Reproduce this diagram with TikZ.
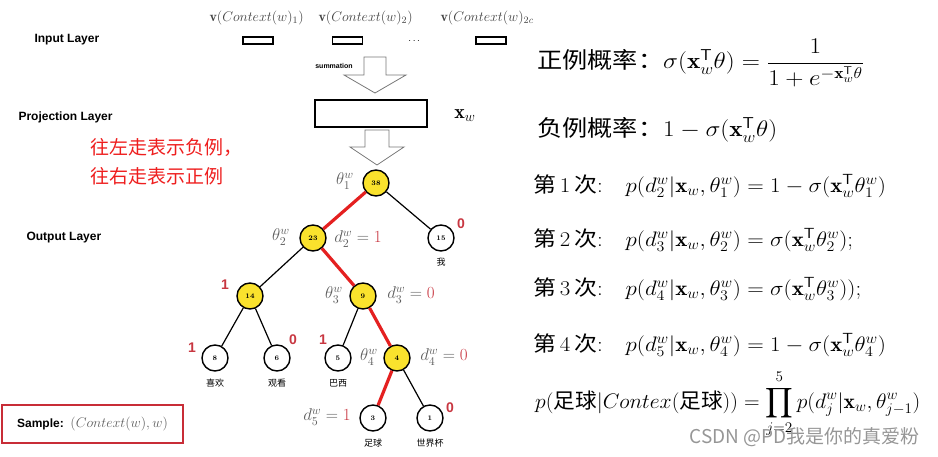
\RequirePackage{fix-cm}
\documentclass[tikz,border=0pt]{standalone}
\usepackage{amsmath,amssymb}
\usepackage{graphicx}
\usepackage{fontspec}
\newfontfamily\cjk{Noto Sans CJK SC}
\newfontfamily\lab{Liberation Sans}
\definecolor{nodeyellow}{RGB}{250,226,45}
\definecolor{pathred}{RGB}{228,32,32}
\definecolor{bitred}{RGB}{200,55,65}
\definecolor{mathgray}{RGB}{95,95,95}
\definecolor{notered}{RGB}{238,30,30}
\definecolor{samplered}{RGB}{200,45,55}
\definecolor{arrowgray}{RGB}{120,120,120}
\definecolor{wmgray}{RGB}{150,150,150}
\tikzset{
  innode/.style={circle, draw, line width=1.4pt, fill=nodeyellow, minimum size=26pt, inner sep=0pt, font=\fontsize{7}{8}\selectfont\bfseries},
  leafnode/.style={innode, fill=white},
  redpath/.style={draw=pathred, line width=3.2pt},
  blackedge/.style={draw=black, line width=1.2pt},
  wordlab/.style={font=\cjk\fontsize{9}{10}\selectfont},
  bitlab/.style={text=bitred, font=\lab\bfseries\fontsize{14}{14}\selectfont},
  mathlab/.style={text=mathgray, inner sep=0.5pt, font=\fontsize{17}{19}\selectfont},
  layerlab/.style={anchor=west, font=\lab\bfseries\fontsize{12}{12}\selectfont},
  formula/.style={anchor=west, inner sep=0pt},
  inbox/.style={draw, line width=1.8pt, minimum width=30pt, minimum height=7pt, inner sep=0pt},
  hollow/.style={draw=arrowgray, line width=0.8pt, fill=white},
  vlab/.style={anchor=west, font=\fontsize{14}{16}\selectfont, text=mathgray!70!black},
}
\newcommand{\bigf}[2]{\scalebox{#1}[1]{\fontsize{#2}{#2}\selectfont}}
\begin{document}
\begin{tikzpicture}[x=1pt,y=-1pt]
\useasboundingbox (0,0) rectangle (938,457);

% layer labels
\node[layerlab] (il) at (31,40) {Input Layer};
\node[layerlab] (pl) at (15,117) {Projection Layer};
\node[layerlab] (ol) at (23,238) {Output Layer};

% input vectors
\node[vlab] (v1) at (206,18) {$\mathbf{v}(Context(w)_1)$};
\node[vlab] (v2) at (315,18) {$\mathbf{v}(Context(w)_2)$};
\node[vlab] (v3) at (437,18) {$\mathbf{v}(Context(w)_{2c}$};
\node[inbox] (in1) at (258,40.5) {};
\node[inbox] (in2) at (347.5,40.5) {};
\node[inbox] (in3) at (491,40.5) {};
\node (dots) at (415,41) {$\cdots$};

% summation arrow
\node[font=\lab\bfseries\fontsize{7}{8}\selectfont] (sum) at (334,66) {summation};
\draw[hollow] (364,57) -- (386,57) -- (386,75) -- (406,75) -- (375,93) -- (344,75) -- (364,75) -- cycle;

% projection
\node[draw, line width=2.2pt, minimum width=112pt, minimum height=27pt, inner sep=0pt] (proj) at (371,113.5) {};
\node[font=\fontsize{20}{22}\selectfont] (xw) at (465,116) {$\mathbf{x}_w$};
\draw[hollow] (365,130) -- (389,130) -- (389,147) -- (404,147) -- (377,165) -- (350,147) -- (365,147) -- cycle;

% red note
\node[anchor=west, text=notered, font=\cjk\fontsize{19}{21}\selectfont] (note1) at (87,148) {往左走表示负例，};
\node[anchor=west, text=notered, font=\cjk\fontsize{19}{21}\selectfont] (note2) at (87,176) {往右走表示正例};

% tree nodes
\node[innode] (n38) at (376,183) {38};
\node[innode] (n23) at (313,238) {23};
\node[leafnode] (n15) at (441,238) {15};
\node[innode] (n14) at (250,296) {14};
\node[innode] (n9) at (363,296) {9};
\node[leafnode] (n8) at (215,358) {8};
\node[leafnode] (n6) at (277,358) {6};
\node[leafnode] (n5) at (338,358) {5};
\node[innode] (n4) at (397,358) {4};
\node[leafnode] (n3) at (373,418) {3};
\node[leafnode] (n1) at (430,418) {1};

% edges
\draw[redpath] (n38) -- (n23);
\draw[blackedge] (n38) -- (n15);
\draw[blackedge] (n23) -- (n14);
\draw[redpath] (n23) -- (n9);
\draw[blackedge] (n14) -- (n8);
\draw[blackedge] (n14) -- (n6);
\draw[blackedge] (n9) -- (n5);
\draw[redpath] (n9) -- (n4);
\draw[redpath] (n4) -- (n3);
\draw[blackedge] (n4) -- (n1);

% word labels
\node[wordlab] (w15) at (441,262) {我};
\node[wordlab] (w8) at (215,383) {喜欢};
\node[wordlab] (w6) at (277,383) {观看};
\node[wordlab] (w5) at (338,383) {巴西};
\node[wordlab] (w3) at (373,443) {足球};
\node[wordlab] (w1) at (430,443) {世界杯};

% bit labels
\node[bitlab] (b15) at (461,224) {0};
\node[bitlab] (b14) at (225,285) {1};
\node[bitlab] (b8) at (192,348) {1};
\node[bitlab] (b6) at (293,340) {0};
\node[bitlab] (b5) at (323,340) {1};
\node[bitlab] (b1) at (450,408) {0};

% theta / d labels
\node[mathlab] (t1) at (345,181) {$\theta_1^w$};
\node[mathlab] (t2) at (281,237) {$\theta_2^w$};
\node[mathlab] (d2) at (358,239) {$d_2^w=\textcolor{bitred}{1}$};
\node[mathlab] (t3) at (334,295) {$\theta_3^w$};
\node[mathlab] (d3) at (411,295) {$d_3^w=\textcolor{bitred}{0}$};
\node[mathlab] (t4) at (369,357) {$\theta_4^w$};
\node[mathlab] (d4) at (444,357) {$d_4^w=\textcolor{bitred}{0}$};
\node[mathlab] (d5) at (327,417) {$d_5^w=\textcolor{bitred}{1}$};

% sample box
\node[draw=samplered, line width=1.6pt, minimum width=181pt, minimum height=38pt, inner sep=0pt] (sample) at (92.5,424) {{\lab\bfseries\fontsize{12}{13}\selectfont Sample:}\ \ {\fontsize{14}{15}\selectfont\color{mathgray}$(Context(w),w)$}};

% formulas
\node[formula] (f1) at (537,63) {\scalebox{1.12}[1]{\fontsize{22.5}{26}\selectfont{\cjk 正例概率：}$\sigma(\mathbf{x}_w^{\mathsf{T}}\theta)=\dfrac{1}{1+e^{-\mathbf{x}_w^{\mathsf{T}}\theta}}$}};
\node[formula] (f2) at (537,130) {\scalebox{1.12}[1]{\fontsize{22.5}{26}\selectfont{\cjk 负例概率：}$1-\sigma(\mathbf{x}_w^{\mathsf{T}}\theta)$}};
\node[formula] (f3) at (533,186) {\scalebox{1.09}[1]{\fontsize{21}{24}\selectfont{\cjk 第}\,1\,{\cjk 次}:\quad $p(d_2^w|\mathbf{x}_w,\theta_1^w)=1-\sigma(\mathbf{x}_w^{\mathsf{T}}\theta_1^w)$}};
\node[formula] (f4) at (533,240) {\scalebox{1.09}[1]{\fontsize{21}{24}\selectfont{\cjk 第}\,2\,{\cjk 次}:\quad $p(d_3^w|\mathbf{x}_w,\theta_2^w)=\sigma(\mathbf{x}_w^{\mathsf{T}}\theta_2^w);$}};
\node[formula] (f5) at (533,289) {\scalebox{1.09}[1]{\fontsize{21}{24}\selectfont{\cjk 第}\,3\,{\cjk 次}:\quad $p(d_4^w|\mathbf{x}_w,\theta_3^w)=\sigma(\mathbf{x}_w^{\mathsf{T}}\theta_3^w));$}};
\node[formula] (f6) at (533,345) {\scalebox{1.09}[1]{\fontsize{21}{24}\selectfont{\cjk 第}\,4\,{\cjk 次}:\quad $p(d_5^w|\mathbf{x}_w,\theta_4^w)=1-\sigma(\mathbf{x}_w^{\mathsf{T}}\theta_4^w)$}};
\node[formula] (f7) at (535,404) {\scalebox{1.03}[1]{\fontsize{21}{24}\selectfont$p(\mbox{\cjk 足球}|Contex(\mbox{\cjk 足球}))=\displaystyle\prod_{j=2}^{5}p(d_j^w|\mathbf{x}_w,\theta_{j-1}^w)$}};

% watermark
\node[anchor=west, text=wmgray, font=\cjk\fontsize{19}{21}\selectfont] (wm) at (686,437) {CSDN @PD我是你的真爱粉};
\end{tikzpicture}
\end{document}
